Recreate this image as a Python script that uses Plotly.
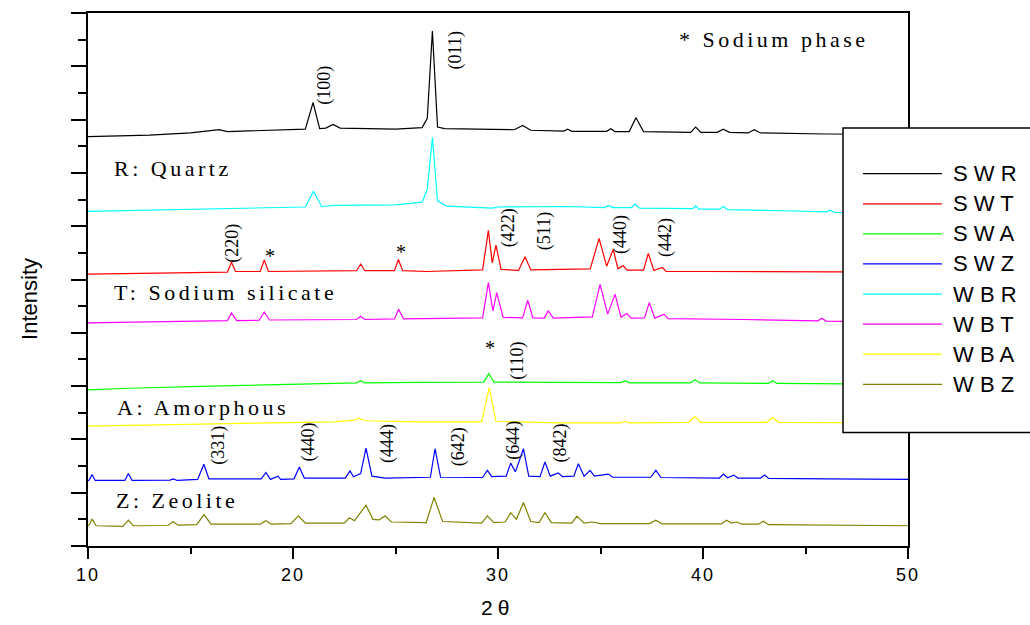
import plotly.graph_objects as go

# ---------------- data ----------------
X_RANGE = [10, 50]
Y_RANGE = [0, 20]
X_TICKS = [10, 20, 30, 40, 50]
X_TICK_TEXT = ["10", "20", "30", "40", "50"]
X_MINOR = [15, 25, 35, 45]

SERIES_NAMES = ["S W R", "S W T", "S W A", "S W Z", "W B R", "W B T", "W B A", "W B Z"]
SERIES_COLORS = ["#000000", "#FF0000", "#00FF00", "#0000FF",
                 "#00FFFF", "#FF00FF", "#FFFF00", "#808000"]

SWR_X = [10, 13, 15, 16.4, 16.8, 19, 20.6, 20.98, 21.3, 21.6, 21.95, 22.3, 25, 26.3, 26.55,
         26.8, 27.05, 27.4, 30.8, 31.2, 31.6, 33.2, 33.4, 33.6, 35.3, 35.5, 35.7, 36.4, 36.73,
         37.1, 39.4, 39.64, 39.9, 40.7, 40.98, 41.3, 42.2, 42.5, 42.8, 46, 50]
SWR_Y = [15.36, 15.42, 15.5, 15.62, 15.55, 15.6, 15.64, 16.64, 15.66, 15.68, 15.82, 15.68, 15.64,
         15.7, 16.05, 19.32, 15.72, 15.66, 15.62, 15.78, 15.6, 15.57, 15.64, 15.56, 15.56, 15.66,
         15.55, 15.55, 16.07, 15.55, 15.52, 15.72, 15.52, 15.52, 15.64, 15.52, 15.5, 15.62, 15.5,
         15.46, 15.44]

SWT_X = [10, 13, 16.8, 17.0, 17.2, 18.4, 18.6, 18.8, 21, 23.1, 23.3, 23.5, 24.95, 25.14, 25.35,
         26.5, 29.25, 29.53, 29.72, 29.9, 30.15, 31.0, 31.32, 31.6, 34.5, 34.93, 35.3, 35.62,
         35.85, 36.1, 36.3, 37.1, 37.33, 37.6, 38.03, 38.2, 40, 44, 50]
SWT_Y = [10.2, 10.24, 10.28, 10.65, 10.3, 10.3, 10.73, 10.3, 10.32, 10.33, 10.58, 10.33, 10.33,
         10.75, 10.33, 10.3, 10.36, 11.84, 10.62, 11.29, 10.38, 10.34, 10.85, 10.36, 10.4, 11.54,
         10.5, 11.13, 10.4, 10.52, 10.35, 10.35, 10.98, 10.34, 10.45, 10.3, 10.3, 10.3, 10.28]

SWA_X = [10, 12, 16, 20, 23.1, 23.3, 23.5, 26, 29.3, 29.55, 29.8, 33, 36.0, 36.2, 36.4, 39.4,
         39.6, 39.85, 43.2, 43.4, 43.6, 47, 50]
SWA_Y = [5.86, 5.92, 6.0, 6.06, 6.12, 6.2, 6.12, 6.14, 6.15, 6.47, 6.15, 6.14, 6.13, 6.2, 6.12,
         6.12, 6.24, 6.12, 6.1, 6.2, 6.1, 6.08, 6.08]

SWZ_X = [10.0, 10.08, 10.2, 10.35, 11.8, 11.97, 12.15, 14.0, 14.16, 14.35, 15.35, 15.65, 15.9,
         18.45, 18.68, 18.9, 19.27, 19.4, 20.05, 20.31, 20.55, 22.55, 22.78, 22.95, 23.3, 23.56,
         23.85, 24.5, 26.7, 26.93, 27.2, 29.25, 29.48, 29.7, 30.4, 30.62, 30.85, 31.24, 31.5,
         32.05, 32.29, 32.55, 32.94, 33.15, 33.7, 33.92, 34.2, 34.49, 34.7, 35.38, 35.6, 37.45,
         37.7, 37.95, 40.8, 41.0, 41.2, 41.5, 41.7, 42.8, 43.0, 43.2, 46, 50]
SWZ_Y = [2.44, 2.5, 2.68, 2.46, 2.46, 2.72, 2.46, 2.47, 2.52, 2.46, 2.5, 3.07, 2.52, 2.52, 2.76,
         2.5, 2.62, 2.5, 2.52, 2.96, 2.55, 2.55, 2.82, 2.6, 2.72, 3.67, 2.62, 2.55, 2.58, 3.65,
         2.58, 2.57, 2.84, 2.6, 2.62, 3.11, 2.78, 3.65, 2.62, 2.6, 3.15, 2.62, 2.74, 2.6, 2.62,
         3.09, 2.62, 2.84, 2.62, 2.7, 2.58, 2.58, 2.84, 2.57, 2.55, 2.7, 2.56, 2.66, 2.55, 2.55,
         2.66, 2.54, 2.52, 2.5]

WBR_X = [10, 14, 17, 20.6, 21.0, 21.4, 22, 25, 26.3, 26.55, 26.8, 27.05, 27.5, 29.7, 30, 31.2,
         33.4, 35.2, 35.4, 35.6, 36.5, 36.7, 36.9, 39.5, 39.65, 39.8, 40.8, 41.0, 41.2, 44, 46,
         46.2, 46.4, 50]
WBR_Y = [12.56, 12.62, 12.66, 12.72, 13.31, 12.74, 12.78, 12.8, 12.9, 13.4, 15.33, 12.95, 12.75,
         12.68, 12.72, 12.72, 12.74, 12.7, 12.78, 12.7, 12.7, 12.83, 12.68, 12.66, 12.76, 12.64,
         12.64, 12.74, 12.62, 12.58, 12.54, 12.6, 12.52, 12.5]

WBT_X = [10, 14, 16.8, 17.0, 17.25, 18.35, 18.6, 18.85, 23.1, 23.3, 23.5, 24.95, 25.15, 25.4,
         29.25, 29.53, 29.75, 29.94, 30.25, 31.2, 31.45, 31.7, 32.25, 32.45, 32.7, 34.6, 34.98,
         35.35, 35.71, 36.0, 36.28, 36.5, 37.15, 37.38, 37.65, 38.1, 38.3, 42, 45.6, 45.8, 46.0, 50]
WBT_Y = [8.37, 8.42, 8.46, 8.75, 8.46, 8.47, 8.78, 8.48, 8.5, 8.62, 8.5, 8.52, 8.88, 8.52, 8.56,
         9.88, 8.82, 9.51, 8.58, 8.56, 9.22, 8.56, 8.55, 8.82, 8.55, 8.6, 9.82, 8.7, 9.45, 8.58,
         8.72, 8.55, 8.56, 9.13, 8.55, 8.7, 8.53, 8.5, 8.45, 8.55, 8.44, 8.4]

WBA_X = [10, 14, 18, 22, 23.0, 23.2, 23.5, 26, 29.2, 29.57, 29.9, 33, 36, 36.2, 36.4, 39.3,
         39.6, 39.9, 43.1, 43.4, 43.7, 47, 50]
WBA_Y = [4.5, 4.55, 4.6, 4.66, 4.72, 4.8, 4.7, 4.66, 4.66, 5.93, 4.68, 4.62, 4.62, 4.68, 4.62,
         4.64, 4.86, 4.64, 4.64, 4.82, 4.64, 4.62, 4.62]

WBZ_X = [10.0, 10.08, 10.2, 10.4, 11.7, 11.97, 12.2, 13.9, 14.15, 14.4, 15.3, 15.66, 16.0, 18.4,
         18.67, 18.95, 19.9, 20.26, 20.6, 22.5, 22.75, 23.0, 23.56, 23.9, 24.2, 24.49, 24.8, 26.5,
         26.88, 27.3, 29.2, 29.48, 29.8, 30.35, 30.62, 30.9, 31.24, 31.6, 32.0, 32.29, 32.6, 33.6,
         33.85, 34.2, 34.6, 35, 37.4, 37.7, 38.0, 40.9, 41.15, 41.4, 41.64, 41.9, 42.7, 42.94,
         43.2, 46, 50]
WBZ_Y = [0.76, 0.82, 1.01, 0.76, 0.74, 0.97, 0.76, 0.77, 0.91, 0.78, 0.8, 1.18, 0.82, 0.82, 0.95,
         0.82, 0.84, 1.13, 0.86, 0.86, 1.06, 0.95, 1.53, 1.0, 0.98, 1.13, 0.9, 0.88, 1.82, 0.92,
         0.86, 1.13, 0.88, 0.9, 1.25, 1.0, 1.63, 0.92, 0.88, 1.25, 0.88, 0.86, 1.12, 0.86, 0.9,
         0.84, 0.84, 0.97, 0.83, 0.83, 0.97, 0.86, 0.9, 0.82, 0.82, 0.93, 0.8, 0.78, 0.76]

SERIES_X = [SWR_X, SWT_X, SWA_X, SWZ_X, WBR_X, WBT_X, WBA_X, WBZ_X]
SERIES_Y = [SWR_Y, SWT_Y, SWA_Y, SWZ_Y, WBR_Y, WBT_Y, WBA_Y, WBZ_Y]

# Miller-index labels (rotated) : text, x, y
MILLER_TEXT = ["(100)", "(011)", "(220)", "(422)", "(511)", "(440)", "(442)", "(110)",
               "(331)", "(440)", "(444)", "(642)", "(644)", "(842)"]
MILLER_X = [21.56, 27.93, 17.05, 30.5, 32.24, 35.98, 38.2, 30.98, 16.36, 20.75, 24.6, 28.06,
            30.75, 33.07]
MILLER_Y = [17.31, 18.58, 11.36, 11.93, 11.81, 11.69, 11.56, 6.95, 3.78, 3.9, 3.84, 3.71, 3.96,
            3.88]

STAR_X = [18.9, 25.25, 29.6]
STAR_Y = [10.88, 11.04, 7.44]

PHASE_TEXT = ["R: Quartz", "T: Sodium silicate", "A: Amorphous", "Z: Zeolite"]
PHASE_X = [11.16, 11.17, 11.32, 11.27]
PHASE_Y = [14.18, 9.5, 5.18, 1.72]

# ---------------- layout geometry (pixels) ----------------
W, H = 1030, 625
PL, PR, PT, PB = 88, 908, 11, 546


def px_x(px):
    return (px - PL) / (PR - PL)


def px_y(py):
    return (PB - py) / (PB - PT)


SERIF = "Liberation Serif, Times New Roman, serif"
SANS = "Liberation Sans, Arial, sans-serif"


def spaced(t, sp):
    return '<span style="letter-spacing:%spx">%s</span>' % (sp, t)


fig = go.Figure()
for name, color, xs, ys in zip(SERIES_NAMES, SERIES_COLORS, SERIES_X, SERIES_Y):
    fig.add_trace(go.Scatter(x=xs, y=ys, mode="lines", name=name,
                             line=dict(color=color, width=1.2), showlegend=False))

annotations = []
for t, x, y in zip(MILLER_TEXT, MILLER_X, MILLER_Y):
    annotations.append(dict(x=x, y=y, xref="x", yref="y", text=t, showarrow=False,
                            textangle=-90, xanchor="center", yanchor="middle",
                            font=dict(family=SERIF, size=18, color="black")))
for x, y in zip(STAR_X, STAR_Y):
    annotations.append(dict(x=x, y=y, xref="x", yref="y", text="*", showarrow=False,
                            xanchor="center", yanchor="middle",
                            font=dict(family=SERIF, size=20, color="black")))
for t, x, y in zip(PHASE_TEXT, PHASE_X, PHASE_Y):
    annotations.append(dict(x=x, y=y, xref="x", yref="y", text=spaced(t, 3.5), showarrow=False,
                            xanchor="left", yanchor="middle",
                            font=dict(family=SERIF, size=22, color="black")))
annotations.append(dict(x=38.73, y=18.99, xref="x", yref="y", text=spaced("* Sodium phase", 3.5),
                        showarrow=False, xanchor="left", yanchor="middle",
                        font=dict(family=SERIF, size=22, color="black")))
# axis titles
annotations.append(dict(x=px_x(30), y=px_y(298), xref="paper", yref="paper", text="Intensity",
                        showarrow=False, textangle=-90, xanchor="center", yanchor="middle",
                        font=dict(family=SANS, size=22, color="black")))
annotations.append(dict(x=px_x(497), y=px_y(608), xref="paper", yref="paper",
                        text=spaced("2θ", 5), showarrow=False, xanchor="center",
                        yanchor="middle", font=dict(family=SANS, size=21, color="black")))

# manual legend box
shapes = [dict(type="rect", xref="paper", yref="paper", x0=px_x(843), x1=px_x(1045),
               y0=px_y(432), y1=px_y(126.5), fillcolor="white",
               line=dict(color="black", width=1.5), layer="above")]
for i, (name, color) in enumerate(zip(SERIES_NAMES, SERIES_COLORS)):
    yy = px_y(172.3 + 30.2 * i)
    shapes.append(dict(type="line", xref="paper", yref="paper", x0=px_x(863), x1=px_x(942),
                       y0=yy, y1=yy, line=dict(color=color, width=1.2), layer="above"))
    annotations.append(dict(x=px_x(951), y=yy, xref="paper", yref="paper", text=name,
                            showarrow=False, xanchor="left", yanchor="middle",
                            font=dict(family=SANS, size=22, color="black")))

fig.update_layout(
    width=W, height=H,
    margin=dict(l=PL, r=W - PR, t=PT, b=H - PB, pad=0),
    paper_bgcolor="white", plot_bgcolor="white",
    showlegend=False,
    annotations=annotations,
    shapes=shapes,
    xaxis=dict(range=X_RANGE, tickmode="array", tickvals=X_TICKS,
               ticktext=[spaced(t, 2) for t in X_TICK_TEXT],
               ticks="outside", ticklen=11, tickwidth=2, tickcolor="black",
               showline=True, linecolor="black", linewidth=2, mirror=True,
               showgrid=False, zeroline=False,
               tickfont=dict(family=SANS, size=18, color="black"),
               minor=dict(tickmode="array", tickvals=X_MINOR, ticks="outside", ticklen=6,
                          tickwidth=2, tickcolor="black", showgrid=False)),
    yaxis=dict(range=Y_RANGE, tickmode="linear", tick0=0, dtick=2, showticklabels=False,
               ticks="outside", ticklen=15, tickwidth=2, tickcolor="black",
               showline=True, linecolor="black", linewidth=2, mirror=True,
               showgrid=False, zeroline=False,
               minor=dict(tickmode="linear", tick0=0, dtick=1, ticks="outside", ticklen=8,
                          tickwidth=2, tickcolor="black", showgrid=False)),
)

fig.write_html("out.html", config={"displayModeBar": False},
               post_script="document.body.style.margin='0';document.body.style.overflow='hidden';")
